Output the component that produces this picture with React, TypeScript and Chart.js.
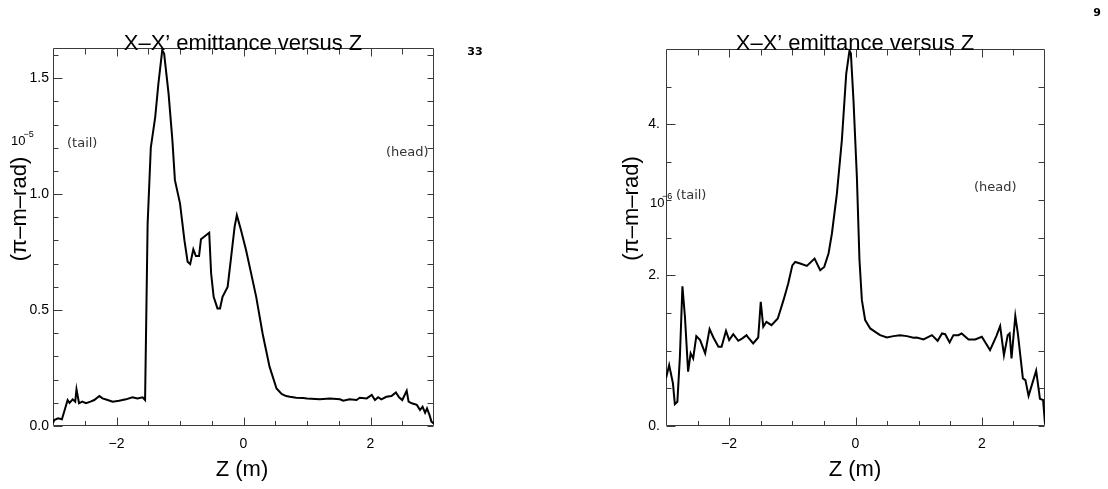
import React, { useEffect, useRef } from 'react';
import { Chart, registerables } from 'chart.js';

Chart.register(...registerables);

// ---------------- data ----------------
const zLeft = [
  -3.0, -2.98, -2.92, -2.86, -2.83, -2.77, -2.74, -2.69, -2.65, -2.63, -2.59, -2.54, -2.48, -2.41,
  -2.35, -2.27, -2.22, -2.14, -2.06, -1.96, -1.85, -1.75, -1.67, -1.59, -1.55, -1.51, -1.46, -1.39,
  -1.34, -1.28, -1.25, -1.18, -1.12, -1.08, -1.0, -0.93, -0.88, -0.84, -0.79, -0.75, -0.7, -0.67,
  -0.62, -0.54, -0.51, -0.47, -0.41, -0.37, -0.33, -0.25, -0.2, -0.14, -0.105, -0.04, 0.04, 0.12,
  0.2, 0.3, 0.33, 0.41, 0.52, 0.6, 0.67, 0.73, 0.83, 0.94, 1.0, 1.2, 1.36, 1.52, 1.57, 1.67, 1.78,
  1.83, 1.94, 2.02, 2.07, 2.12, 2.17, 2.25, 2.33, 2.4, 2.45, 2.5, 2.57, 2.6, 2.65, 2.73, 2.78, 2.82,
  2.86, 2.89, 2.93, 2.96, 3.0,
];
const emitLeft = [
  0.012, 0.026, 0.033, 0.029, 0.056, 0.112, 0.1, 0.115, 0.105, 0.158, 0.098, 0.105, 0.098, 0.105,
  0.112, 0.129, 0.119, 0.112, 0.105, 0.109, 0.115, 0.124, 0.119, 0.124, 0.112, 0.87, 1.2, 1.333,
  1.477, 1.62, 1.606, 1.433, 1.233, 1.06, 0.96, 0.8, 0.708, 0.698, 0.762, 0.733, 0.733, 0.805,
  0.816, 0.833, 0.658, 0.557, 0.507, 0.507, 0.557, 0.6, 0.716, 0.859, 0.909, 0.845, 0.759, 0.658,
  0.557, 0.4, 0.36, 0.256, 0.162, 0.138, 0.129, 0.126, 0.122, 0.121, 0.119, 0.115, 0.119, 0.115,
  0.109, 0.115, 0.112, 0.122, 0.119, 0.134, 0.112, 0.124, 0.115, 0.126, 0.129, 0.145, 0.124, 0.112,
  0.152, 0.105, 0.098, 0.091, 0.069, 0.083, 0.057, 0.076, 0.047, 0.019, 0.01,
];

const zRight = [
  -3.0, -2.95, -2.89, -2.86, -2.82, -2.78, -2.74, -2.7, -2.65, -2.61, -2.57, -2.52, -2.46, -2.38,
  -2.31, -2.25, -2.17, -2.12, -2.05, -2.0, -1.935, -1.856, -1.79, -1.725, -1.7, -1.62, -1.54, -1.5,
  -1.46, -1.41, -1.33, -1.23, -1.14, -1.065, -1.0, -0.954, -0.875, -0.77, -0.648, -0.559, -0.495,
  -0.427, -0.374, -0.295, -0.216, -0.147, -0.095, -0.073, -0.032, 0.022, 0.063, 0.101, 0.153, 0.233,
  0.312, 0.39, 0.497, 0.6, 0.707, 0.813, 0.918, 0.97, 1.076, 1.21, 1.3, 1.37, 1.42, 1.49, 1.55, 1.63,
  1.68, 1.79, 1.894, 2.0, 2.13, 2.23, 2.29, 2.35, 2.41, 2.44, 2.47, 2.53, 2.57, 2.65, 2.69, 2.74,
  2.86, 2.92, 2.97, 3.0,
];
const emitRight = [
  0.632, 0.808, 0.565, 0.291, 0.322, 0.918, 1.854, 1.448, 0.72, 0.963, 0.897, 1.192, 1.139, 0.963,
  1.285, 1.174, 1.05, 1.05, 1.262, 1.139, 1.218, 1.13, 1.162, 1.205, 1.174, 1.095, 1.174, 1.647,
  1.316, 1.382, 1.338, 1.426, 1.669, 1.89, 2.13, 2.176, 2.155, 2.123, 2.22, 2.066, 2.11, 2.287, 2.55,
  3.08, 3.79, 4.67, 4.98, 4.94, 4.32, 3.3, 2.2, 1.669, 1.404, 1.294, 1.249, 1.205, 1.174, 1.192,
  1.205, 1.192, 1.17, 1.174, 1.148, 1.205, 1.13, 1.228, 1.218, 1.108, 1.205, 1.205, 1.228, 1.148,
  1.148, 1.183, 1.007, 1.192, 1.325, 0.94, 1.205, 1.228, 0.897, 1.457, 1.228, 0.632, 0.609, 0.4,
  0.733, 0.36, 0.344, 0.03,
];

const xMajorTicks = [-2, 0, 2];
const xTickLabels = ['\u22122', '0', '2'];
const xMinorTicks = [-2.5, -1.5, -1, -0.5, 0.5, 1, 1.5, 2.5];

const yMajorLeft = [0, 0.5, 1.0, 1.5];
const yLabelsLeft = ['0.0', '0.5', '1.0', '1.5'];
const yMinorLeft = [0.1, 0.2, 0.3, 0.4, 0.6, 0.7, 0.8, 0.9, 1.1, 1.2, 1.3, 1.4, 1.6];

const yMajorRight = [0, 2, 4];
const yLabelsRight = ['0.', '2.', '4.'];
const yMinorRight = [0.5, 1, 1.5, 2.5, 3, 3.5, 4.5];

const titleText = 'X\u2013X\u2019 emittance versus Z';
const xTitleText = 'Z (m)';
const yTitleText = '(\u03c0\u2013m\u2013rad)';
const tailText = '(tail)';
const headText = '(head)';

// ---------------- panel configs ----------------
type TextItem = {
  text: string;
  x: number;
  y: number;
  font: string;
  align?: CanvasTextAlign;
  baseline?: CanvasTextBaseline;
  rotate?: number;
  color?: string;
};

type PanelCfg = {
  z: number[];
  v: number[];
  yMax: number;
  yMajor: number[];
  yLabels: string[];
  yMinor: number[];
  padding: { left: number; right: number; top: number; bottom: number };
  yAxisWidth: number;
  xAxisHeight: number;
  yTickPad: number;
  texts: TextItem[];
};

const TITLE_FONT = '22px "Liberation Sans", Arial, sans-serif';
const SMALL_FONT = '13px "DejaVu Sans", sans-serif';
const EXP_FONT = '13px "Liberation Sans", Arial, sans-serif';
const SUP_FONT = '9px "Liberation Sans", Arial, sans-serif';

const leftPanel: PanelCfg = {
  z: zLeft,
  v: emitLeft,
  yMax: 1.63,
  yMajor: yMajorLeft,
  yLabels: yLabelsLeft,
  yMinor: yMinorLeft,
  padding: { left: 0, right: 120, top: 48, bottom: 33 },
  yAxisWidth: 53,
  xAxisHeight: 30,
  yTickPad: 4,
  texts: [
    { text: titleText, x: 243, y: 50, font: TITLE_FONT, align: 'center', baseline: 'alphabetic' },
    { text: xTitleText, x: 242, y: 476, font: TITLE_FONT, align: 'center', baseline: 'alphabetic' },
    { text: yTitleText, x: 19.5, y: 209, font: TITLE_FONT, align: 'center', baseline: 'middle', rotate: -Math.PI / 2 },
    { text: '10', x: 11, y: 141, font: EXP_FONT, align: 'left', baseline: 'middle' },
    { text: '\u22125', x: 23.5, y: 135, font: SUP_FONT, align: 'left', baseline: 'middle' },
    { text: tailText, x: 67, y: 143.5, font: SMALL_FONT, align: 'left', baseline: 'middle', color: '#333' },
    { text: headText, x: 386, y: 152.5, font: SMALL_FONT, align: 'left', baseline: 'middle', color: '#333' },
    { text: '33', x: 475, y: 52, font: 'bold 11px "DejaVu Sans", sans-serif', align: 'center', baseline: 'middle' },
  ],
};

const rightPanel: PanelCfg = {
  z: zRight,
  v: emitRight,
  yMax: 5.0,
  yMajor: yMajorRight,
  yLabels: yLabelsRight,
  yMinor: yMinorRight,
  padding: { left: 0, right: 63, top: 49, bottom: 33 },
  yAxisWidth: 112,
  xAxisHeight: 30,
  yTickPad: 6,
  texts: [
    { text: titleText, x: 301, y: 50, font: TITLE_FONT, align: 'center', baseline: 'alphabetic' },
    { text: xTitleText, x: 301, y: 476, font: TITLE_FONT, align: 'center', baseline: 'alphabetic' },
    { text: yTitleText, x: 78, y: 208.5, font: TITLE_FONT, align: 'center', baseline: 'middle', rotate: -Math.PI / 2 },
    { text: '10', x: 96, y: 203, font: EXP_FONT, align: 'left', baseline: 'middle' },
    { text: '\u22126', x: 108, y: 197, font: SUP_FONT, align: 'left', baseline: 'middle' },
    { text: tailText, x: 122, y: 196, font: SMALL_FONT, align: 'left', baseline: 'middle', color: '#333' },
    { text: headText, x: 420, y: 187.5, font: SMALL_FONT, align: 'left', baseline: 'middle', color: '#333' },
    { text: '9', x: 543, y: 13, font: 'bold 11px "DejaVu Sans", sans-serif', align: 'center', baseline: 'middle' },
  ],
};

// ---------------- plugins ----------------
function framePlugin(cfg: PanelCfg) {
  return {
    id: 'frameTicks',
    beforeDatasetsDraw(chart: any) {
      const { ctx, chartArea: a } = chart;
      const xs = chart.scales.x;
      const ys = chart.scales.y;
      ctx.save();
      ctx.strokeStyle = '#3a3a3a';
      ctx.lineWidth = 1;
      const L = Math.round(a.left) + 0.5;
      const R = Math.round(a.right) - 0.5;
      const T = Math.round(a.top) + 0.5;
      const B = Math.round(a.bottom) - 0.5;
      ctx.beginPath();
      ctx.rect(L, T, R - L, B - T);
      ctx.stroke();
      ctx.beginPath();
      const xt = (vals: number[], lb: number, lt: number) => {
        vals.forEach((v) => {
          const px = Math.round(xs.getPixelForValue(v)) + 0.5;
          ctx.moveTo(px, B);
          ctx.lineTo(px, B - lb);
          ctx.moveTo(px, T);
          ctx.lineTo(px, T + lt);
        });
      };
      xt(xMajorTicks, 8, 8);
      xt(xMinorTicks, 4.5, 6);
      const yt = (vals: number[], ll: number, lr: number) => {
        vals.forEach((v) => {
          const py = Math.round(ys.getPixelForValue(v)) + 0.5;
          ctx.moveTo(L, py);
          ctx.lineTo(L + ll, py);
          ctx.moveTo(R, py);
          ctx.lineTo(R - lr, py);
        });
      };
      yt(cfg.yMajor, 9, 6);
      yt(cfg.yMinor, 5, 6);
      ctx.stroke();
      ctx.restore();
    },
    afterDraw(chart: any) {
      const { ctx } = chart;
      cfg.texts.forEach((t) => {
        ctx.save();
        ctx.font = t.font;
        ctx.fillStyle = t.color || '#000';
        ctx.textAlign = t.align || 'left';
        ctx.textBaseline = t.baseline || 'alphabetic';
        ctx.translate(t.x, t.y);
        if (t.rotate) ctx.rotate(t.rotate);
        ctx.fillText(t.text, 0, 0);
        ctx.restore();
      });
    },
  };
}

function makeChart(canvas: HTMLCanvasElement, cfg: PanelCfg) {
  return new Chart(canvas, {
    type: 'line',
    data: {
      datasets: [
        {
          data: cfg.z.map((z, i) => ({ x: z, y: cfg.v[i] })),
          borderColor: '#000',
          borderWidth: 2,
          pointRadius: 0,
          tension: 0,
          fill: false,
        },
      ],
    },
    options: {
      responsive: false,
      animation: false,
      devicePixelRatio: 1,
      layout: { padding: cfg.padding },
      plugins: {
        legend: { display: false },
        title: { display: false },
        tooltip: { enabled: false },
      },
      events: [],
      scales: {
        x: {
          type: 'linear',
          min: -3,
          max: 3,
          grid: { display: false, drawTicks: false },
          border: { display: false },
          afterBuildTicks: (scale: any) => {
            scale.ticks = xMajorTicks.map((v) => ({ value: v }));
          },
          afterFit: (scale: any) => {
            scale.height = cfg.xAxisHeight;
          },
          ticks: {
            padding: 10,
            maxRotation: 0,
            autoSkip: false,
            color: '#000',
            font: { family: '"Liberation Sans", Arial, sans-serif', size: 14 },
            callback: (value: any) => {
              const i = xMajorTicks.indexOf(Number(value));
              return i >= 0 ? xTickLabels[i] : '';
            },
          },
        },
        y: {
          type: 'linear',
          min: 0,
          max: cfg.yMax,
          grid: { display: false, drawTicks: false },
          border: { display: false },
          afterBuildTicks: (scale: any) => {
            scale.ticks = cfg.yMajor.map((v) => ({ value: v }));
          },
          afterFit: (scale: any) => {
            scale.width = cfg.yAxisWidth;
          },
          ticks: {
            padding: cfg.yTickPad,
            autoSkip: false,
            color: '#000',
            font: { family: '"Liberation Sans", Arial, sans-serif', size: 14 },
            callback: (value: any) => {
              const i = cfg.yMajor.indexOf(Number(value));
              return i >= 0 ? cfg.yLabels[i] : '';
            },
          },
        },
      },
    } as any,
    plugins: [framePlugin(cfg)],
  });
}

export default function App() {
  const leftRef = useRef<HTMLCanvasElement>(null);
  const rightRef = useRef<HTMLCanvasElement>(null);

  useEffect(() => {
    document.body.style.margin = '0';
    document.body.style.background = '#fff';
    const c1 = makeChart(leftRef.current as HTMLCanvasElement, leftPanel);
    const c2 = makeChart(rightRef.current as HTMLCanvasElement, rightPanel);
    return () => {
      c1.destroy();
      c2.destroy();
    };
  }, []);

  return (
    <div style={{ position: 'relative', width: 1108, height: 489, background: '#fff', overflow: 'hidden' }}>
      <canvas
        ref={leftRef}
        width={554}
        height={489}
        style={{ position: 'absolute', left: 0, top: 0, width: 554, height: 489 }}
      />
      <canvas
        ref={rightRef}
        width={554}
        height={489}
        style={{ position: 'absolute', left: 554, top: 0, width: 554, height: 489 }}
      />
    </div>
  );
}
